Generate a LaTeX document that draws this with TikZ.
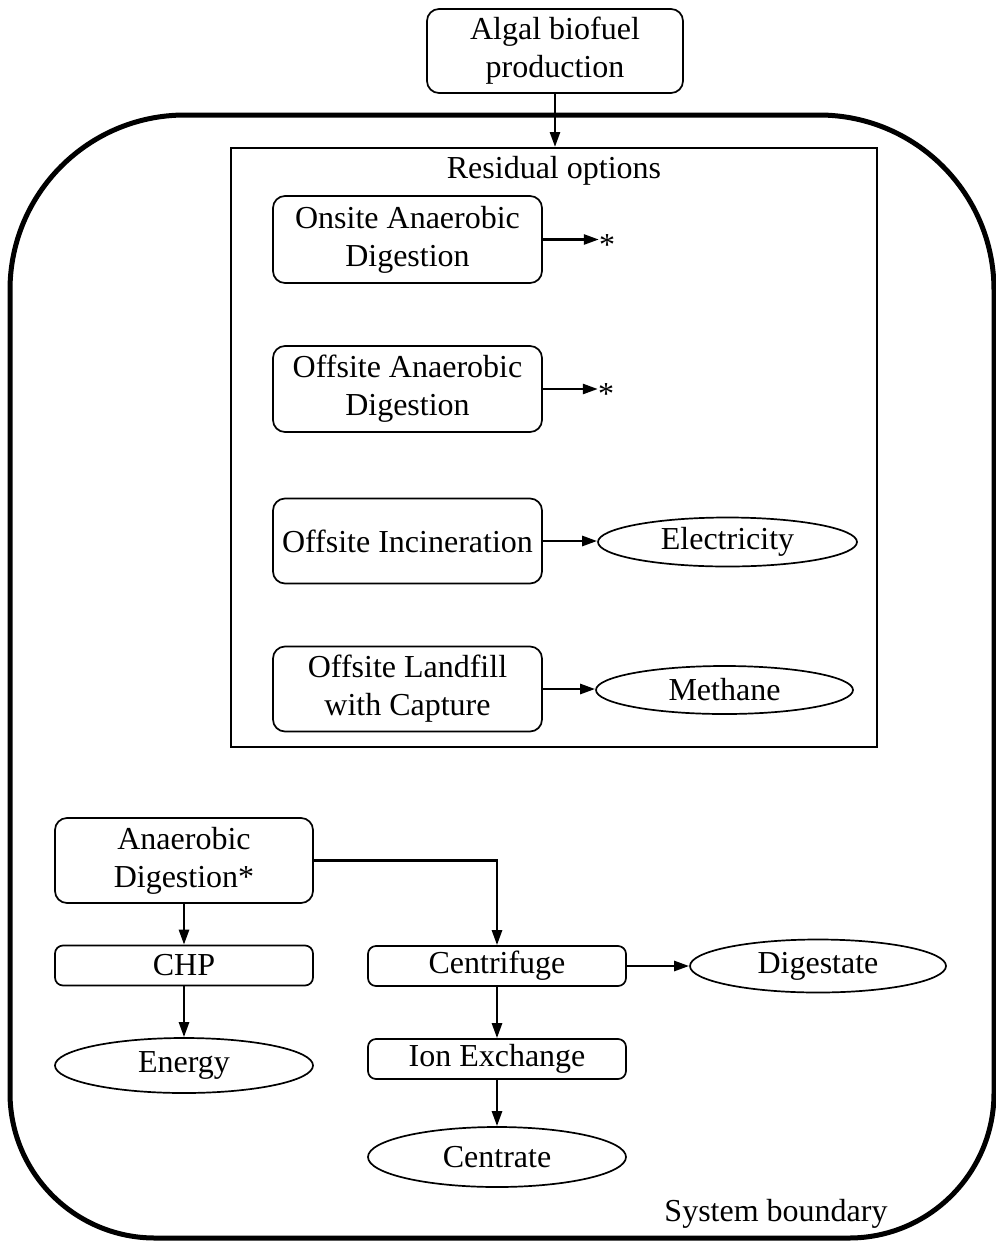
\documentclass[tikz,border=0pt]{standalone}
\usepackage{fontspec}
\setmainfont{Liberation Serif}
\usetikzlibrary{arrows.meta,shapes.geometric}
\begin{document}
\begin{tikzpicture}[x=1pt,y=-1pt,
  every node/.style={font=\fontsize{32}{38}\selectfont},
  proc/.style={draw,line width=1.7pt,rounded corners=12pt,align=center,inner sep=0pt},
  thin/.style={draw,line width=1.7pt,rounded corners=8pt,align=center,inner sep=0pt,minimum width=258pt,minimum height=40pt},
  product/.style={draw,ellipse,line width=1.7pt,inner sep=0pt},
  flow/.style={line width=2.6pt,-{Triangle[length=15pt,width=10pt]}},
  boundary/.style={line width=5pt}]
\useasboundingbox (0,0) rectangle (996,1243);

% system boundary
\draw[boundary] (10,700) [rounded corners=175pt] -- (10,115) -- (994,115) -- (994,700)
  [rounded corners=145pt] -- (994,1238) -- (10,1238) -- cycle;
\node (sysb) at (776,1214) {System boundary};

% upstream process
\node[proc,minimum width=256pt,minimum height=84pt] (alg) at (555,51) {Algal biofuel\\production};

% residual options
\node[draw,line width=2pt,minimum width=646pt,minimum height=599pt,inner sep=0pt] (res) at (554,447.5) {};
\node (restitle) at (554,171) {Residual options};

\node[proc,minimum width=269pt,minimum height=87pt] (onsite) at (407.5,239.5) {Onsite Anaerobic\\Digestion};
\node[proc,minimum width=269pt,minimum height=86pt] (offad) at (407.5,389) {Offsite Anaerobic\\Digestion};
\node[proc,minimum width=269pt,minimum height=85pt] (inc) at (407.5,541) {Offsite Incineration};
\node[proc,minimum width=269pt,minimum height=85pt] (land) at (407.5,689) {Offsite Landfill\\with Capture};

\node[inner sep=0pt] (star1) at (607,245) {*};
\node[inner sep=0pt] (star2) at (606,394) {*};
\node[product,minimum width=259pt,minimum height=49pt] (elec) at (727.5,542) {Electricity};
\node[product,minimum width=257pt,minimum height=48pt] (meth) at (724.5,690) {Methane};

% anaerobic digestion chain
\node[proc,minimum width=258pt,minimum height=85pt] (ad) at (184,860.5) {Anaerobic\\Digestion*};
\node[thin] (chp) at (184,965.5) {CHP};
\node[product,minimum width=258pt,minimum height=55pt] (energy) at (184,1065.5) {Energy};
\node[thin] (cent) at (497,966) {Centrifuge};
\node[product,minimum width=256pt,minimum height=53pt] (dig) at (818,966) {Digestate};
\node[thin] (ion) at (497,1059) {Ion Exchange};
\node[product,minimum width=258pt,minimum height=60pt] (centrate) at (497,1157) {Centrate};

% connectors
\draw[flow] (alg.south) -- (alg.south |- res.north);
\draw[flow] (onsite.east) -- (onsite.east -| star1.west);
\draw[flow] (offad.east) -- (offad.east -| star2.west);
\draw[flow] (inc.east) -- (inc.east -| elec.west);
\draw[flow] (land.east) -- (land.east -| meth.west);
\draw[flow] (ad.south) -- (chp.north);
\draw[flow] (chp.south) -- (energy.north);
\draw[flow] (ad.east) -| (cent.north);
\draw[flow] (cent.east) -- (dig.west);
\draw[flow] (cent.south) -- (ion.north);
\draw[flow] (ion.south) -- (centrate.north);
\end{tikzpicture}
\end{document}
